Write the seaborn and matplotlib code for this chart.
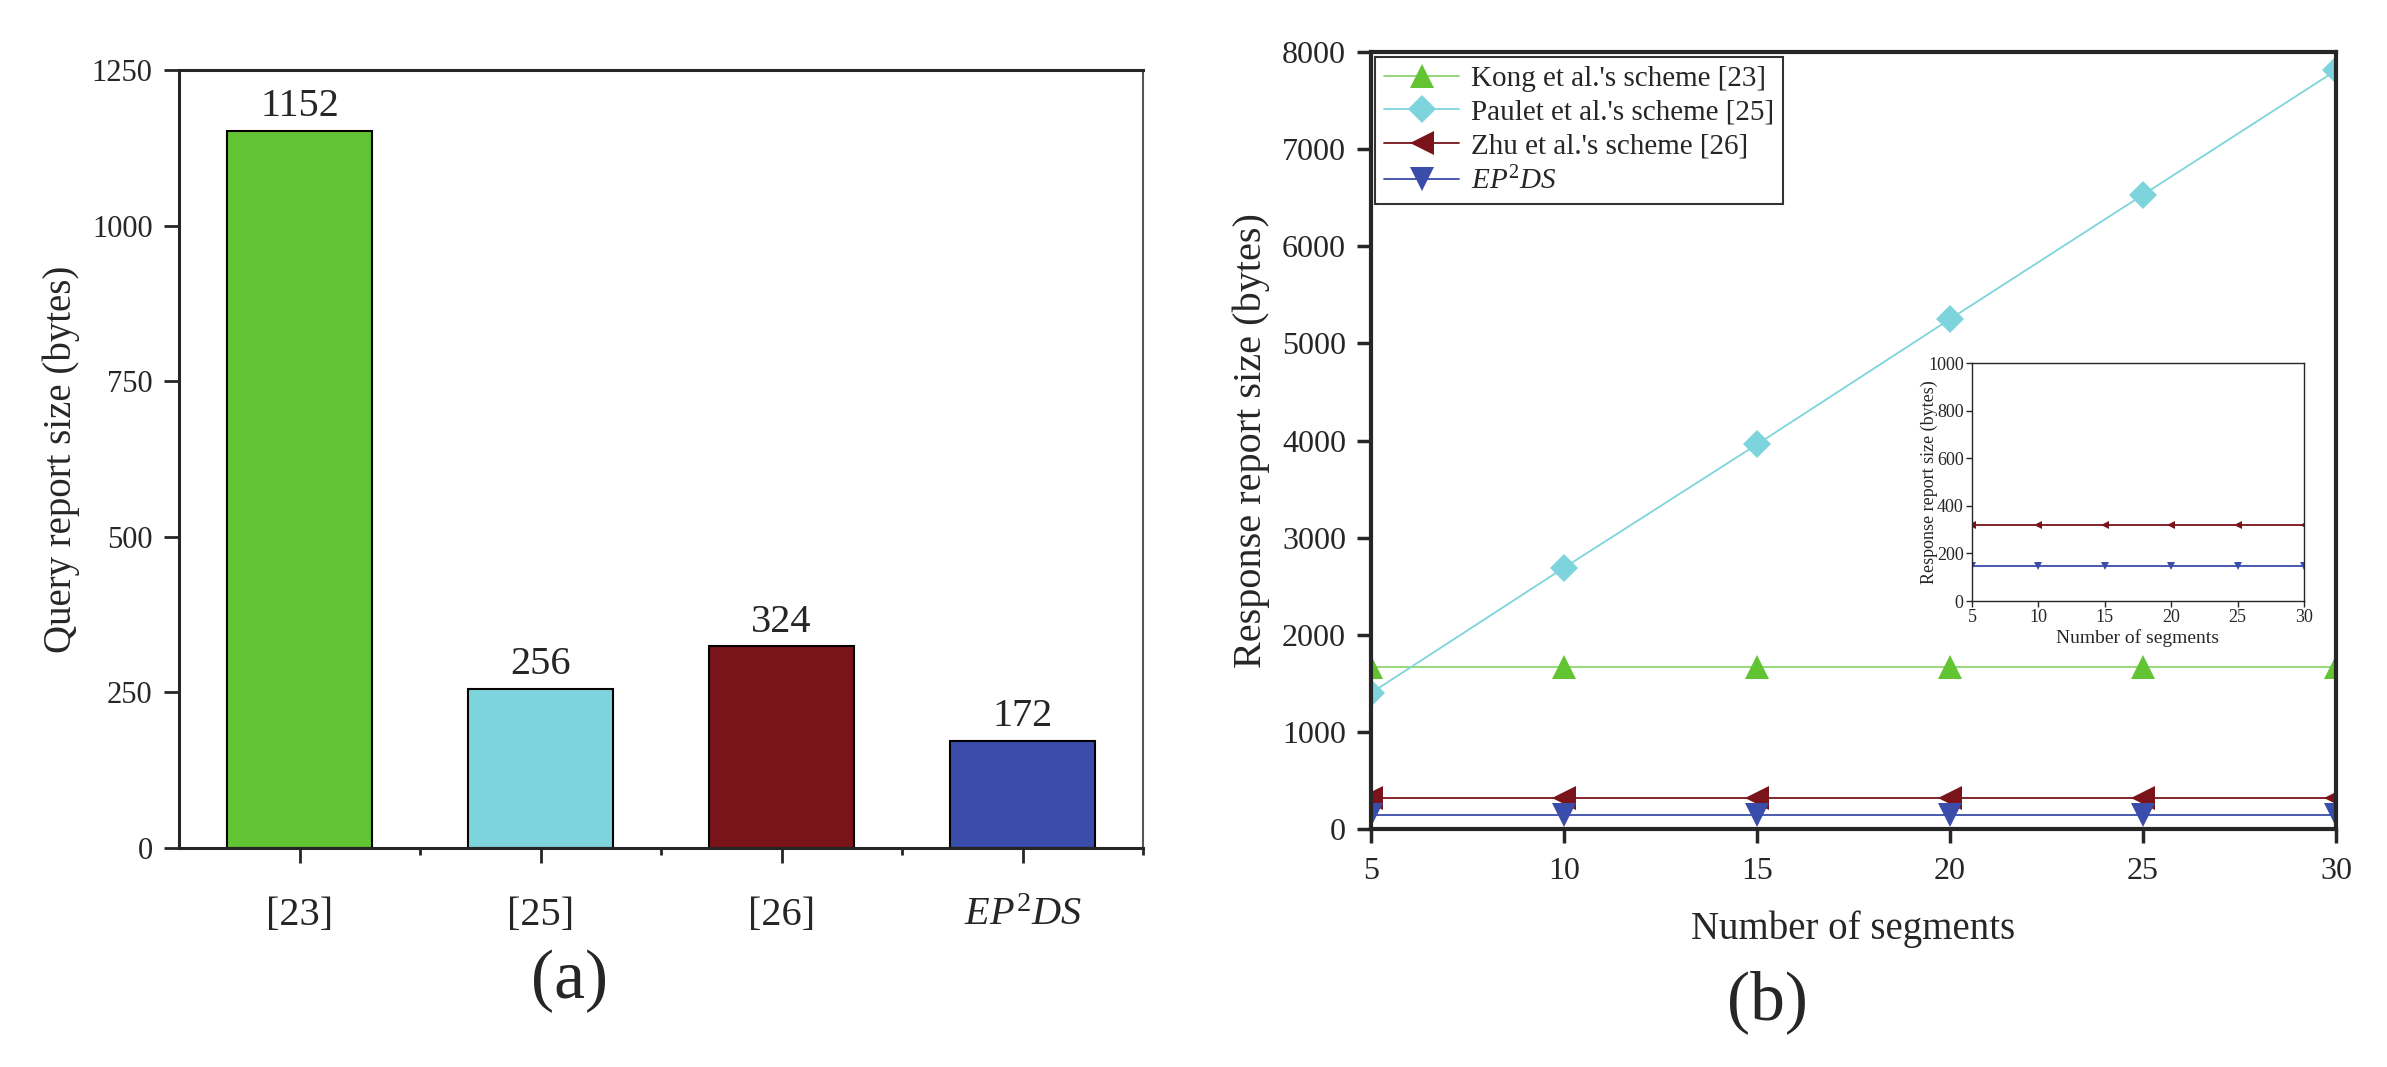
import numpy as np
import pandas as pd
import seaborn as sns
import matplotlib.pyplot as plt

sns.set_style("ticks")
plt.rcParams['font.family'] = ['Liberation Serif', 'DejaVu Serif']
plt.rcParams['mathtext.fontset'] = 'custom'
plt.rcParams['mathtext.rm'] = 'Liberation Serif'
plt.rcParams['mathtext.it'] = 'Liberation Serif:italic'

# (a) query report size
schemes = ["[23]", "[25]", "[26]", r"$EP^{\mathrm{2}}DS$"]
query_size = [1152, 256, 324, 172]
bar_colors = ["#62C433", "#7ED4DD", "#7B141A", "#3A4DAA"]

# (b) response report size vs number of segments
segments = [5, 10, 15, 20, 25, 30]
kong = [1664, 1664, 1664, 1664, 1664, 1664]
paulet = [1400, 2690, 3960, 5250, 6530, 7810]
zhu = [320, 320, 320, 320, 320, 320]
ep2ds = [148, 148, 148, 148, 148, 148]

series = [
    ("Kong et al.'s scheme [23]", kong, "#62C433", "#8FD670", "^"),
    ("Paulet et al.'s scheme [25]", paulet, "#7ED4DD", "#7ED4DD", "D"),
    ("Zhu et al.'s scheme [26]", zhu, "#7B141A", "#7B141A", "<"),
    (r"$EP^{\mathrm{2}}DS$", ep2ds, "#3A4DAA", "#3A4DAA", "v"),
]

W, H = 2387, 1067
fig = plt.figure(figsize=(W / 100, H / 100), dpi=100)

def box(x0, y0, x1, y1):
    return [x0 / W, 1 - y1 / H, (x1 - x0) / W, (y1 - y0) / H]

# ---- panel (a) ----
ax1 = fig.add_axes(box(179, 70, 1143, 848))
df = pd.DataFrame({"scheme": schemes, "size": query_size})
sns.barplot(data=df, x="scheme", y="size", hue="scheme", palette=bar_colors,
            width=0.6, edgecolor="black", linewidth=1.5, saturation=1,
            legend=False, ax=ax1)
for c in ax1.containers:
    ax1.bar_label(c, fontsize=29, padding=4)
ax1.set_xlim(-0.5, 3.5)
ax1.set_ylim(0, 1250)
ax1.set_yticks([0, 250, 500, 750, 1000, 1250])
ax1.set_xticks([0.5, 1.5, 2.5, 3.5], minor=True)
ax1.tick_params(axis="y", direction="out", length=11, width=2, labelsize=22, pad=8)
ax1.tick_params(axis="x", which="major", direction="out", length=11, width=2,
                labelsize=29, pad=24)
ax1.tick_params(axis="x", which="minor", direction="out", length=5, width=2)
ax1.set_xlabel("")
ax1.set_ylabel("Query report size (bytes)", fontsize=28)
ax1.yaxis.set_label_coords(-0.103, 0.5)
for s in ["left", "bottom", "top"]:
    ax1.spines[s].set_linewidth(2.2)
ax1.spines["right"].set_linewidth(1.5)
ax1.spines["right"].set_color("#555555")

# ---- panel (b) ----
ax2 = fig.add_axes(box(1371, 52, 2336, 829))
for name, vals, mcol, lcol, mk in series:
    sns.lineplot(x=segments, y=vals, color=lcol, lw=1.3, marker=mk,
                 markersize=17 if mk != "D" else 14, markerfacecolor=mcol,
                 markeredgewidth=0, label=name, ax=ax2)
ax2.set_xlim(5, 30)
ax2.set_ylim(0, 8000)
ax2.set_xticks(segments)
ax2.set_yticks(range(0, 8001, 1000))
ax2.tick_params(direction="out", length=10, width=2.5, labelsize=23)
ax2.tick_params(axis="x", pad=10)
ax2.tick_params(axis="y", pad=8)
for s in ax2.spines.values():
    s.set_linewidth(3)
ax2.set_xlabel("Number of segments", fontsize=28)
ax2.set_ylabel("Response report size (bytes)", fontsize=29)
ax2.xaxis.set_label_coords(0.5, -0.105)
ax2.yaxis.set_label_coords(-0.105, 0.5)
leg = ax2.legend(loc="upper left", bbox_to_anchor=(0.004, 0.994), fontsize=21,
                 frameon=True, fancybox=False, edgecolor="black",
                 handlelength=2.6, handletextpad=0.4, borderpad=0.3,
                 labelspacing=0.25, borderaxespad=0)
leg.get_frame().set_linewidth(1.5)

# inset
ax3 = fig.add_axes(box(1972, 363, 2304, 601))
for name, vals, mcol, lcol, mk in series[2:]:
    sns.lineplot(x=segments, y=vals, color=lcol, lw=1.3, marker=mk,
                 markersize=6, markerfacecolor=mcol, markeredgewidth=0,
                 legend=False, ax=ax3)
ax3.set_xlim(5, 30)
ax3.set_ylim(0, 1000)
ax3.set_xticks(segments)
ax3.set_yticks(range(0, 1001, 200))
ax3.tick_params(direction="out", length=4, width=1, labelsize=13, pad=2)
for s in ax3.spines.values():
    s.set_linewidth(1)
ax3.set_xlabel("Number of segments", fontsize=14)
ax3.set_ylabel("Response report size (bytes)", fontsize=13)
ax3.xaxis.set_label_coords(0.5, -0.118)
ax3.yaxis.set_label_coords(-0.102, 0.5)

fig.text(570 / W, 1 - 981 / H, "(a)", fontsize=50, ha="center", va="center")
fig.text(1767 / W, 1 - 1002 / H, "(b)", fontsize=50, ha="center", va="center")

fig.savefig("out.png", dpi=100)
